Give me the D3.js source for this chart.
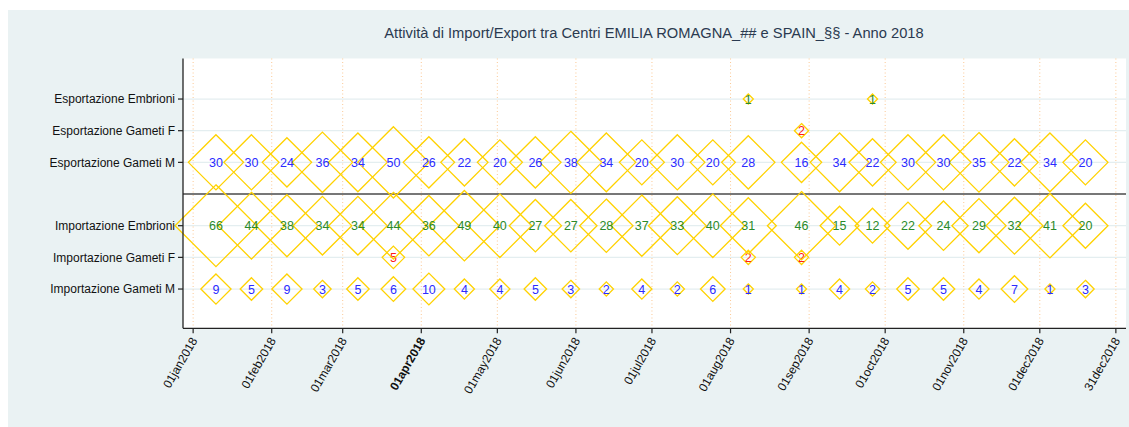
<!DOCTYPE html>
<html>
<head>
<meta charset="utf-8">
<script src="https://cdn.jsdelivr.net/npm/d3@7"></script>
<style>
  html, body { margin: 0; padding: 0; background: #ffffff; }
  svg { display: block; font-family: "Liberation Sans", Arial, Helvetica, sans-serif; }
</style>
</head>
<body>
<svg id="chart" width="1129" height="427"></svg>
<script>
// Shipment dates (biweekly activity records, 2018)
const dates = [
  "2018-01-10", "2018-01-24", "2018-02-07", "2018-02-21", "2018-03-07",
  "2018-03-21", "2018-04-04", "2018-04-18", "2018-05-02", "2018-05-16",
  "2018-05-30", "2018-06-13", "2018-06-27", "2018-07-11", "2018-07-25",
  "2018-08-08", "2018-08-29", "2018-09-13", "2018-09-26", "2018-10-10",
  "2018-10-24", "2018-11-07", "2018-11-21", "2018-12-05", "2018-12-19"
];

// Row categories, top to bottom
const rowLabels = [
  "Esportazione Embrioni", "Esportazione Gameti F", "Esportazione Gameti M",
  "Importazione Embrioni", "Importazione Gameti F", "Importazione Gameti M"
];

// Counts per date (null = no activity)
const espEmbrioni = [null, null, null, null, null, null, null, null, null, null, null, null, null, null, null, 1, null, null, 1, null, null, null, null, null, null];
const espGametiF  = [null, null, null, null, null, null, null, null, null, null, null, null, null, null, null, null, 2, null, null, null, null, null, null, null, null];
const espGametiM  = [30, 30, 24, 36, 34, 50, 26, 22, 20, 26, 38, 34, 20, 30, 20, 28, 16, 34, 22, 30, 30, 35, 22, 34, 20];
const impEmbrioni = [66, 44, 38, 34, 34, 44, 36, 49, 40, 27, 27, 28, 37, 33, 40, 31, 46, 15, 12, 22, 24, 29, 32, 41, 20];
const impGametiF  = [null, null, null, null, null, 5, null, null, null, null, null, null, null, null, null, 2, 2, null, null, null, null, null, null, null, null];
const impGametiM  = [9, 5, 9, 3, 5, 6, 10, 4, 4, 5, 3, 2, 4, 2, 6, 1, 1, 4, 2, 5, 5, 4, 7, 1, 3];

// X axis tick dates
const tickDates = [
  "2018-01-01", "2018-02-01", "2018-03-01", "2018-04-01", "2018-05-01", "2018-06-01", "2018-07-01",
  "2018-08-01", "2018-09-01", "2018-10-01", "2018-11-01", "2018-12-01", "2018-12-31"
];

const titleText = "Attività di Import/Export tra Centri EMILIA ROMAGNA_## e SPAIN_§§ - Anno 2018";

const parse = d3.utcParse("%Y-%m-%d");
const fmt = d3.utcFormat("%d%b%Y");

const series = [
  { row: 5, values: impGametiM,  color: "#2b2bff" },
  { row: 4, values: impGametiF,  color: "#ff1a1a" },
  { row: 3, values: impEmbrioni, color: "#2a8a2a" },
  { row: 2, values: espGametiM,  color: "#2b2bff" },
  { row: 1, values: espGametiF,  color: "#ff1a1a" },
  { row: 0, values: espEmbrioni, color: "#2a8a2a" }
];

// vertical position code per row: export rows 7,6,5 ; import rows 3,2,1 ; divider at 4
const rowCode = i => (i < 3 ? 7 - i : 6 - i);

const svg = d3.select("#chart");
const W = 1129, H = 427;
const plot = { left: 183, right: 1126, top: 58.5, bottom: 328.3 };

// graph region background
svg.append("rect").attr("x", 8).attr("y", 10).attr("width", W - 8).attr("height", H - 10)
  .attr("fill", "#eaf2f3");
// plot region
svg.append("rect").attr("x", plot.left).attr("y", plot.top)
  .attr("width", plot.right - plot.left).attr("height", plot.bottom - plot.top)
  .attr("fill", "#ffffff");

const x0 = parse("2018-01-01"), x1 = parse("2018-12-31");
const x = d3.scaleUtc()
  .domain([d3.utcDay.offset(x0, -4), d3.utcDay.offset(x1, 4)])
  .range([plot.left, plot.right]);
const y = d3.scaleLinear().domain([-0.24, 8.28]).range([plot.bottom, plot.top]);
const r = d3.scaleSqrt().domain([0, 66]).range([0, 40.9]);

// horizontal grid lines per row
svg.append("g").selectAll("line").data(rowLabels).join("line")
  .attr("x1", plot.left).attr("x2", plot.right)
  .attr("y1", (d, i) => y(rowCode(i))).attr("y2", (d, i) => y(rowCode(i)))
  .attr("stroke", "#e4eef0").attr("stroke-width", 1.2);

// vertical dotted lines at each tick
const ticks = tickDates.map(parse);
svg.append("g").selectAll("line").data(ticks).join("line")
  .attr("x1", d => x(d)).attr("x2", d => x(d))
  .attr("y1", plot.top).attr("y2", plot.bottom)
  .attr("stroke", "#fbc894").attr("stroke-width", 1).attr("stroke-dasharray", "1,2.5");

// divider between export and import rows
svg.append("line").attr("x1", plot.left).attr("x2", plot.right)
  .attr("y1", y(4)).attr("y2", y(4))
  .attr("stroke", "#4a4a4a").attr("stroke-width", 1.6);

// diamonds and value labels
const marks = svg.append("g");
series.forEach(s => {
  const pts = s.values.map((v, i) => ({ v, date: parse(dates[i]) })).filter(p => p.v != null);
  const yy = y(rowCode(s.row));
  const g = marks.append("g");
  g.selectAll("path").data(pts).join("path")
    .attr("d", p => {
      const cx = x(p.date), rr = r(p.v);
      return `M${cx},${yy - rr}L${cx + rr},${yy}L${cx},${yy + rr}L${cx - rr},${yy}Z`;
    })
    .attr("fill", "none").attr("stroke", "#ffd200").attr("stroke-width", 1.3)
    .attr("stroke-linejoin", "miter");
  g.selectAll("text").data(pts).join("text")
    .attr("x", p => x(p.date)).attr("y", yy).attr("dy", "0.36em")
    .attr("text-anchor", "middle").attr("font-size", 12.5).attr("fill", s.color)
    .text(p => p.v);
});

// Y axis
const yAxis = svg.append("g");
yAxis.append("line").attr("x1", plot.left).attr("x2", plot.left)
  .attr("y1", plot.top).attr("y2", plot.bottom).attr("stroke", "#222").attr("stroke-width", 1.3);
rowLabels.forEach((lab, i) => {
  const yy = y(rowCode(i));
  yAxis.append("line").attr("x1", plot.left - 5).attr("x2", plot.left)
    .attr("y1", yy).attr("y2", yy).attr("stroke", "#222").attr("stroke-width", 1.2);
  yAxis.append("text").attr("x", plot.left - 8).attr("y", yy).attr("dy", "0.35em")
    .attr("text-anchor", "end").attr("font-size", 12).attr("fill", "#111").text(lab);
});

// X axis
const xAxis = svg.append("g");
xAxis.append("line").attr("x1", plot.left).attr("x2", plot.right)
  .attr("y1", plot.bottom).attr("y2", plot.bottom).attr("stroke", "#222").attr("stroke-width", 1.3);
ticks.forEach(t => {
  const xx = x(t);
  xAxis.append("line").attr("x1", xx).attr("x2", xx)
    .attr("y1", plot.bottom).attr("y2", plot.bottom + 5).attr("stroke", "#222").attr("stroke-width", 1.2);
  xAxis.append("text")
    .attr("transform", `translate(${xx + 1},${plot.bottom + 10}) rotate(-60)`)
    .attr("text-anchor", "end").attr("dy", "0.35em").attr("font-size", 12)
    .attr("fill", "#111")
    .attr("font-weight", fmt(t) === "01Apr2018" ? "bold" : "normal")
    .text(fmt(t).toLowerCase());
});

// title
svg.append("text").attr("x", 654).attr("y", 38).attr("text-anchor", "middle")
  .attr("font-size", 14.7).attr("fill", "#2a3a50").text(titleText);
</script>
</body>
</html>
